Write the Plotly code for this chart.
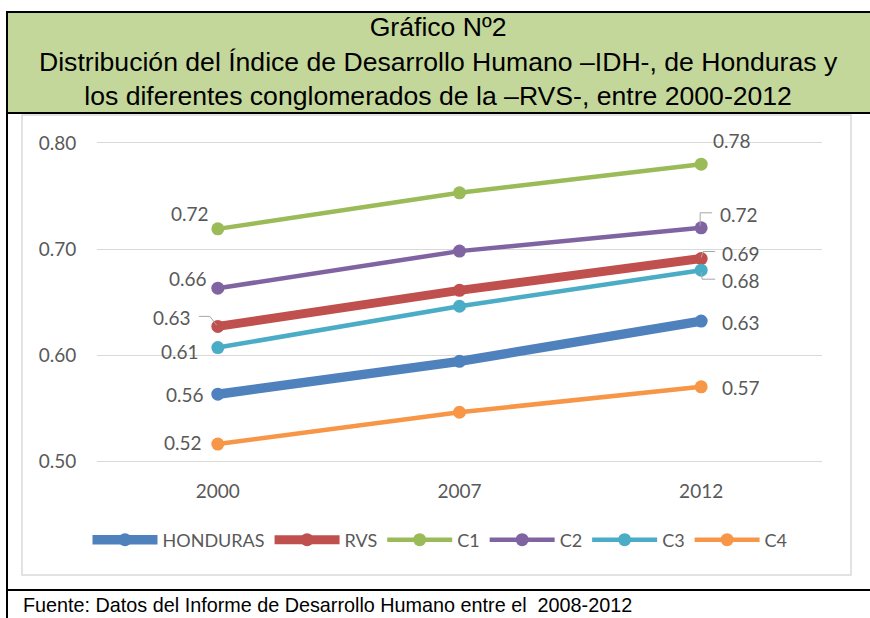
import plotly.graph_objects as go

# ---------------- data ----------------
years = ["2000", "2007", "2012"]
series_names = ["HONDURAS", "RVS", "C1", "C2", "C3", "C4"]
honduras = [0.563, 0.594, 0.632]
rvs = [0.627, 0.661, 0.691]
c1 = [0.719, 0.753, 0.780]
c2 = [0.663, 0.698, 0.720]
c3 = [0.607, 0.646, 0.680]
c4 = [0.516, 0.546, 0.570]
y_ticks = [0.50, 0.60, 0.70, 0.80]

title_text = ("Gráfico Nº2<br>Distribución del Índice de Desarrollo Humano –IDH-, de Honduras y"
              "<br>los diferentes conglomerados de la –RVS-, entre 2000-2012")
source_text = "Fuente: Datos del Informe de Desarrollo Humano entre el  2008-2012"

# ---------------- styles ----------------
values = [honduras, rvs, c1, c2, c3, c4]
colors = ["#4F81BD", "#C0504D", "#9BBB59", "#8064A2", "#4BACC6", "#F79646"]
widths = [9.5, 9, 4.5, 4.5, 4.5, 4.5]
# label offsets in pixels (first point, last point)
first_off = [(-33, 0), (-46, 9), (-28, 15), (-30, 10), (-38, -4), (-35, 2)]
last_off = [(40, -1), (40, 5), (31, 24), (38, 13), (40, -10), (40, -1)]

W, H = 870, 618
L, R, T, B = 97, 48, 143, 157
PW, PH = W - L - R, H - T - B


def px(x):
    return (x - L) / PW


def py(y):
    return (H - B - y) / PH


TICK_FONT = dict(family="Lato, sans-serif", size=19, color="#595959")

fig = go.Figure()
for name, vals, col, w in zip(series_names, values, colors, widths):
    fig.add_trace(go.Scatter(
        x=years, y=vals, name=name, mode="lines+markers",
        line=dict(color=col, width=w),
        marker=dict(color=col, size=13),
    ))

annotations = []
for vals, fo, lo in zip(values, first_off, last_off):
    for idx, off in ((0, fo), (len(years) - 1, lo)):
        annotations.append(dict(
            x=idx, y=vals[idx], xref="x", yref="y",
            text=f"{vals[idx]:.2f}", showarrow=False,
            xshift=off[0], yshift=off[1], font=TICK_FONT,
        ))

# title and source
annotations.append(dict(
    x=px(438), y=py(61), xref="paper", yref="paper", text=title_text,
    showarrow=False, xanchor="center", yanchor="middle",
    font=dict(family="Liberation Sans, Arial, sans-serif", size=26.6, color="black"),
))
annotations.append(dict(
    x=px(21), y=py(605), xref="paper", yref="paper", text=source_text,
    showarrow=False, xanchor="left", yanchor="middle",
    font=dict(family="Liberation Sans, Arial, sans-serif", size=19.8, color="black"),
))

shapes = []
# title band
shapes.append(dict(type="rect", xref="paper", yref="paper", x0=px(7), x1=px(872), y0=py(12), y1=py(113),
                   fillcolor="#C4D79B", line=dict(color="black", width=2), layer="below"))
# chart area frame
shapes.append(dict(type="rect", xref="paper", yref="paper", x0=px(22), x1=px(851), y0=py(115), y1=py(575),
                   line=dict(color="#D9D9D9", width=1.5), layer="below"))
# left border and separator line
shapes.append(dict(type="line", xref="paper", yref="paper", x0=px(7), x1=px(7), y0=py(12), y1=py(620),
                   line=dict(color="black", width=2)))
shapes.append(dict(type="line", xref="paper", yref="paper", x0=px(7), x1=px(872), y0=py(590), y1=py(590),
                   line=dict(color="black", width=2)))

# leader lines (elbow) anchored at data points, pixel offsets
leaders = [
    (rvs, 0, [(-19, 10), (-8, 10), (-1, 1)]),
    (c2, 2, [(-1, 2), (-1, 15), (11, 15)]),
    (rvs, 2, [(0, 1), (2, 7), (14, 7)]),
    (c3, 2, [(0, -2), (1, -9), (14, -9)]),
]
for vals, idx, pts in leaders:
    for (a, b) in zip(pts[:-1], pts[1:]):
        shapes.append(dict(type="line", xref="x", yref="y",
                           xsizemode="pixel", ysizemode="pixel",
                           xanchor=idx, yanchor=vals[idx],
                           x0=a[0], y0=a[1], x1=b[0], y1=b[1],
                           line=dict(color="#A6A6A6", width=1)))

fig.update_layout(
    width=W, height=H, autosize=False,
    margin=dict(l=L, r=R, t=T, b=B, pad=0),
    paper_bgcolor="white", plot_bgcolor="white",
    showlegend=True,
    legend=dict(orientation="h", x=px(440), xanchor="center", y=py(540), yanchor="middle",
                font=dict(family="Lato, sans-serif", size=18, color="#595959"),
                itemwidth=65, tracegroupgap=0, bgcolor="rgba(0,0,0,0)"),
    annotations=annotations,
    shapes=shapes,
)
fig.update_xaxes(type="category", range=[-0.5, 2.5], showgrid=False, zeroline=False,
                 showline=True, mirror=True, linecolor="#D9D9D9", linewidth=1,
                 ticks="outside", ticklen=13, tickcolor="rgba(0,0,0,0)",
                 tickfont=TICK_FONT, fixedrange=True)
fig.update_yaxes(range=[0.5, 0.8], tickvals=y_ticks, tickformat=".2f", showgrid=True,
                 gridcolor="#D9D9D9", gridwidth=1, zeroline=False, showline=False,
                 ticks="outside", ticklen=16, tickcolor="rgba(0,0,0,0)",
                 tickfont=TICK_FONT, fixedrange=True)

fig.write_html("out.html", config={"displayModeBar": False},
               post_script="document.body.style.margin='0px';document.body.style.overflow='hidden';")
